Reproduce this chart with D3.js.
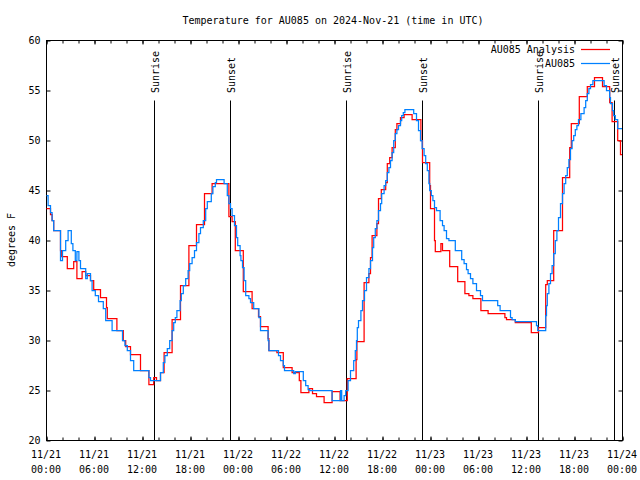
<!DOCTYPE html>
<html><head><meta charset="utf-8">
<script src="https://cdn.jsdelivr.net/npm/d3@7"></script>
<style>body{margin:0;background:#fff}text{font-family:"DejaVu Sans Mono",monospace;font-size:10px;fill:#000}</style>
</head><body><svg id="c" width="640" height="480"></svg>
<script>
// ---- data ----
const startUTC = Date.UTC(2024, 10, 21, 0, 0);
const titleText = "Temperature for AU085 on 2024-Nov-21 (time in UTC)";
const yLabel = "degrees F";
const seriesNames = ["AU085 Analysis", "AU085"];
const seriesColors = ["#ff0000", "#0080ff"];
const yTicks = [20, 25, 30, 35, 40, 45, 50, 55, 60];

// AU085 Analysis (red) : hours since 11/21 00:00 UTC and temperature (F)
const redHours = [0,0.5,0.7,0.9,1.75,1.9,2.6,3.4,3.8,4.45,4.9,5.5,5.9,6.75,7.5,7.6,8.8,9.6,9.9,10.5,11.75,12.8,13.4,13.75,14.25,14.7,15.7,16.75,17.8,18.75,19.75,20.7,22.8,23.2,23.6,24.6,25.7,26.5,26.75,27.7,27.8,28.8,29.6,30.7,31.6,31.8,32.8,33.25,33.75,34.7,35.7,36.7,37.6,38.7,38.8,39.7,40.3,40.5,40.7,41.3,41.5,41.85,42.4,42.6,42.9,43.2,43.6,43.8,44.25,44.7,45.7,46.8,47.0,47.9,48.0,48.5,48.6,49.3,49.5,50.4,51.4,52.3,52.8,53.3,54.3,55.2,57.3,57.5,58.6,60.6,61.5,62.4,62.6,63.4,64.5,65.4,65.6,66.6,67.6,68.5,69.5,70.4,70.7,71.4,71.75,72];
const redTemps = [43.2,42.6,42.0,41.0,39.0,38.4,37.2,37.9,36.2,36.9,36.5,36.0,35.1,34.3,33.3,32.2,31.0,30.0,29.4,28.6,27.0,25.6,26.3,26.0,26.8,28.8,32.1,35.5,39.5,41.6,44.7,45.7,42.4,41.9,39.0,34.9,33.2,32.4,31.4,30.2,29.0,28.8,27.3,26.8,26.0,24.8,25.2,24.7,24.4,23.8,24.9,24.0,26.2,28.1,29.9,35.8,36.7,38.3,40.5,41.7,44.2,45.1,45.8,47.7,48.3,49.3,51.1,51.7,52.3,52.6,52.1,50.0,47.8,45.5,43.2,40.0,38.9,39.7,39.0,37.4,35.9,34.7,34.5,34.2,33.0,32.7,32.3,32.1,31.8,30.8,31.3,35.6,36.0,41.0,46.3,49.3,51.7,54.4,55.4,56.3,55.4,53.8,51.9,50.0,48.6,48.6];

// AU085 observations (blue)
const blueHours = [0,0.2,0.5,0.7,0.9,1.75,2.0,2.4,2.7,3.1,3.3,3.6,3.8,4.05,4.25,4.9,5.1,5.5,5.7,6.1,6.5,7.1,7.4,8.2,9.5,9.8,10.1,10.5,10.9,12.8,13.0,14.25,14.6,14.8,15.1,15.4,15.7,15.9,16.1,16.3,16.7,16.85,17.1,17.4,17.7,17.9,18.2,18.5,18.75,19.05,19.25,19.6,19.9,20.1,20.6,20.8,21.1,21.25,22.2,22.6,22.8,23.0,23.2,23.5,23.75,23.9,24.2,24.3,24.5,24.7,24.9,25.3,25.5,25.9,26.55,26.75,27.7,27.8,29.0,29.25,29.6,29.75,30.9,31.1,32.1,32.4,32.7,32.9,35.7,36.75,36.9,37.2,37.4,37.7,38.0,38.4,38.6,38.75,38.85,39.0,39.3,39.5,39.75,40.0,40.3,40.5,40.75,40.9,41.1,41.3,41.5,41.75,41.9,42.2,42.4,42.6,42.8,43.0,43.2,43.4,43.6,43.8,44.0,44.25,44.4,44.6,44.8,45.9,46.25,46.5,46.75,46.95,47.2,47.4,47.6,47.8,47.9,48.1,48.3,48.5,48.75,49.2,49.5,49.7,50.0,50.3,51.1,51.9,52.2,52.5,52.7,53.0,53.3,53.75,54.25,54.5,56.4,56.7,58.0,58.2,58.6,61.25,61.4,62.4,62.5,62.6,62.8,63.0,63.2,63.4,63.6,63.8,64.0,64.25,64.5,64.7,64.9,65.1,65.3,65.5,65.7,65.9,66.1,66.3,66.5,66.8,67.2,67.4,67.6,67.8,68.0,68.3,69.7,70.0,70.4,70.5,70.75,70.9,71.1,71.4,72];
const blueTemps = [44.5,43.5,42.8,42.0,41.0,38.0,39.0,40.0,41.0,39.7,39.0,38.0,38.9,38.0,37.2,36.2,36.7,36.0,35.0,34.5,33.9,33.2,32.0,31.0,30.0,29.5,29.0,28.0,27.0,26.3,26.0,26.8,27.8,28.5,29.2,30.0,31.0,31.8,32.3,33.0,34.0,34.7,35.5,36.2,37.0,37.7,38.3,39.0,39.8,40.7,41.3,42.0,43.2,43.9,44.7,45.4,45.8,46.1,45.7,44.5,43.7,43.2,42.5,41.5,40.3,39.5,38.5,38.0,37.3,36.0,34.5,34.2,33.8,33.2,32.3,31.0,30.0,29.0,28.5,28.0,27.5,27.0,26.7,26.9,26.0,25.5,25.1,25.0,24.0,25.0,24.0,24.5,25.0,26.0,27.0,28.0,29.0,30.0,31.3,32.0,33.0,34.0,35.0,36.3,37.2,38.0,39.3,40.3,41.2,42.0,43.0,43.7,44.7,45.5,46.0,46.8,47.3,48.0,48.8,50.0,50.7,51.1,51.5,52.0,52.5,52.8,53.1,52.7,52.0,51.0,50.0,49.2,48.5,47.7,47.0,45.7,45.0,44.5,44.0,43.3,43.0,42.0,41.5,41.0,40.2,40.0,39.0,38.1,37.7,37.1,36.7,36.2,35.7,35.0,34.5,34.0,33.5,33.0,32.3,32.1,31.9,31.5,31.0,32.5,33.5,34.7,35.7,36.7,37.5,38.7,40.0,41.0,42.3,43.7,44.7,45.7,46.5,47.3,48.1,49.2,50.0,50.5,51.1,51.5,52.1,52.7,53.3,54.0,54.7,55.2,55.6,56.0,55.5,55.0,54.3,53.7,53.0,52.5,52.1,51.2,51.2];

// sunrise / sunset times (hours since start)
const sunHours = [13.5, 23, 37.5, 47, 61.5, 71];
const sunLabels = ["Sunrise", "Sunset", "Sunrise", "Sunset", "Sunrise", "Sunset"];

// ---- drawing ----
const H = 3600e3;
const toDate = h => new Date(startUTC + h * H);
const svg = d3.select("#c");
const L = 46, R = 622, T = 40, B = 440;
const x = d3.scaleUtc().domain([toDate(0), toDate(72)]).range([L, R]);
const y = d3.scaleLinear().domain([20, 60]).range([B, T]);

const g = svg.append("g").attr("transform", "translate(0.5,0.5)");

svg.append("defs").append("clipPath").attr("id", "clip")
  .append("rect").attr("x", L).attr("y", T).attr("width", R - L).attr("height", B - T);

// title
svg.append("text").attr("x", 333).attr("y", 24).attr("text-anchor", "middle").text(titleText);
// y label
svg.append("text").attr("transform", "translate(15,240) rotate(-90)").attr("text-anchor", "middle").text(yLabel);

// axes
const yAxisL = d3.axisLeft(y).tickValues(yTicks).tickSize(-4).tickPadding(6);
const yAxisR = d3.axisRight(y).tickValues(yTicks).tickSize(-4).tickFormat("");
g.append("g").attr("transform", `translate(${L},0)`).call(yAxisL);
g.append("g").attr("transform", `translate(${R},0)`).call(yAxisR);

const fmtD = d3.utcFormat("%m/%d"), fmtT = d3.utcFormat("%H:%M");
const majors = d3.utcHour.every(6).range(toDate(0), toDate(72.01));
const minors = d3.utcHour.every(2).range(toDate(0), toDate(72.01));
const xAxisB = d3.axisBottom(x).tickValues(majors).tickSize(-4).tickPadding(10).tickFormat("");
g.append("g").attr("transform", `translate(0,${B})`).call(d3.axisBottom(x).tickValues(minors).tickSize(-3).tickFormat(""));
g.append("g").attr("transform", `translate(0,${T})`).call(d3.axisTop(x).tickValues(minors).tickSize(-3).tickFormat(""));
g.append("g").attr("transform", `translate(0,${B})`).call(xAxisB);
g.append("g").attr("transform", `translate(0,${T})`).call(d3.axisTop(x).tickValues(majors).tickSize(-4).tickFormat(""));

// two-line x labels
majors.forEach(d => {
  const t = svg.append("text").attr("text-anchor", "middle");
  t.append("tspan").attr("x", x(d)).attr("y", 458).text(fmtD(d));
  t.append("tspan").attr("x", x(d)).attr("y", 473).text(fmtT(d));
});

g.selectAll(".domain").remove();
g.selectAll(".tick line").attr("stroke", "#000");
g.selectAll(".tick text").style("font-family", '"DejaVu Sans Mono",monospace').style("font-size", "10px").attr("fill", "#000");

// border
g.append("rect").attr("x", L).attr("y", T).attr("width", R - L).attr("height", B - T)
  .attr("fill", "none").attr("stroke", "#000");

// sunrise / sunset
sunHours.forEach((h, i) => {
  const sx = Math.round(x(toDate(h)));
  g.append("line").attr("x1", sx).attr("x2", sx).attr("y1", 100).attr("y2", B).attr("stroke", "#000");
  svg.append("text").attr("transform", `translate(${sx + 5},93) rotate(-90)`).text(sunLabels[i]);
});

// series
const line = d3.line().curve(d3.curveStepAfter).x(d => x(toDate(d[0]))).y(d => y(d[1]));
const redData = redHours.map((h, i) => [h, redTemps[i]]);
const blueData = blueHours.map((h, i) => [h, blueTemps[i]]);
const plot = svg.append("g").attr("clip-path", "url(#clip)");
[redData, blueData].forEach((data, i) => {
  plot.append("path").datum(data).attr("d", line)
    .attr("fill", "none").attr("stroke", seriesColors[i]).attr("stroke-width", 1.25)
    .attr("transform", "translate(0.5,0.5)");
});

// legend
seriesNames.forEach((n, i) => {
  const ly = 49 + i * 14;
  svg.append("text").attr("x", 575).attr("y", ly + 4).attr("text-anchor", "end").text(n);
  svg.append("line").attr("x1", 581).attr("x2", 610).attr("y1", ly + 0.5).attr("y2", ly + 0.5)
    .attr("stroke", seriesColors[i]).attr("stroke-width", 1.25);
});
</script></body></html>
